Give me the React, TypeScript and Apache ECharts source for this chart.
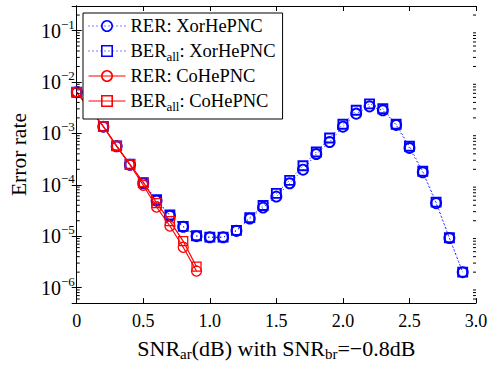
import React, { useEffect, useRef } from 'react';
import * as echarts from 'echarts';

// ---- data ----
const xorSnr = [0, 0.2, 0.3, 0.4, 0.5, 0.6, 0.7, 0.8, 0.9, 1.0, 1.1, 1.2, 1.3, 1.4, 1.5, 1.6, 1.7, 1.8, 1.9, 2.0, 2.1, 2.2, 2.3, 2.4, 2.5, 2.6, 2.7, 2.8, 2.9];
const rerXor = [6.3e-3, 1.35e-3, 5.6e-4, 2.45e-4, 1.07e-4, 4.9e-5, 2.5e-5, 1.52e-5, 1.0e-5, 9.5e-6, 9.5e-6, 1.27e-5, 2.2e-5, 3.6e-5, 5.9e-5, 1.07e-4, 1.97e-4, 3.97e-4, 6.8e-4, 1.35e-3, 2.42e-3, 3.35e-3, 2.81e-3, 1.46e-3, 5.2e-4, 1.75e-4, 4.4e-5, 9.2e-6, 2.0e-6];
const berXor = [6.3e-3, 1.37e-3, 5.7e-4, 2.5e-4, 1.1e-4, 5.1e-5, 2.6e-5, 1.55e-5, 1.02e-5, 9.6e-6, 9.6e-6, 1.3e-5, 2.3e-5, 3.95e-5, 6.8e-5, 1.22e-4, 2.35e-4, 4.33e-4, 8.1e-4, 1.5e-3, 2.81e-3, 3.75e-3, 3.01e-3, 1.5e-3, 5.63e-4, 1.83e-4, 4.6e-5, 9.3e-6, 2.0e-6];
const coSnr = [0, 0.2, 0.3, 0.4, 0.5, 0.6, 0.7, 0.8, 0.9];
const rerCo = [6.26e-3, 1.35e-3, 5.6e-4, 2.45e-4, 9.8e-5, 3.7e-5, 1.58e-5, 6.1e-6, 2.1e-6];
const berCo = [6.3e-3, 1.37e-3, 5.7e-4, 2.5e-4, 1.13e-4, 4.4e-5, 1.96e-5, 8.0e-6, 2.55e-6];

const seriesNames = ['RER: XorHePNC', 'BER_all: XorHePNC', 'RER: CoHePNC', 'BER_all: CoHePNC'];
const xTickValues = [0, 0.5, 1.0, 1.5, 2.0, 2.5, 3.0];
const yDecades = [-7, -6, -5, -4, -3, -2, -1];
const minorMultipliers = [2, 3, 4, 5, 6, 7, 8, 9];

const X_MIN = 0;
const X_MAX = 3;
const Y_MIN = 5e-7;
const Y_MAX = 0.3;

const FONT = 'Liberation Serif';

const minorTickValues: number[] = [];
yDecades.forEach((d) => {
  minorMultipliers.forEach((m) => {
    const v = m * Math.pow(10, d);
    if (v > Y_MIN && v < Y_MAX) minorTickValues.push(v);
  });
});

function richName(name: string): string {
  const m = name.match(/^(\w+)_(\w+)(.*)$/);
  if (m) return `{a|${m[1]}}{s|${m[2]}}{a|${m[3]}}`;
  return `{a|${name}}`;
}

export default function App() {
  const ref = useRef<HTMLDivElement>(null);

  useEffect(() => {
    document.body.style.margin = '0';
    if (!ref.current) return;
    const chart = echarts.init(ref.current, undefined, { renderer: 'svg' });

    const BLUE = '#0000ff';
    const RED = '#ff0000';

    const axisLineStyle = { color: '#000', width: 1 };

    const option: any = {
      animation: false,
      backgroundColor: '#fff',
      textStyle: { fontFamily: FONT, color: '#000' },
      grid: { left: 76, right: 15, top: 6, bottom: 56, containLabel: false },
      legend: {
        data: seriesNames,
        orient: 'vertical',
        left: 83,
        top: 13,
        itemWidth: 37,
        itemHeight: 13,
        itemGap: 1,
        padding: [1, 7, 6, 5],
        borderColor: '#000',
        borderWidth: 1,
        backgroundColor: '#fff',
        selectedMode: false,
        lineStyle: { width: 1 },
        itemStyle: { borderWidth: 1.6 },
        formatter: (name: string) => richName(name),
        textStyle: {
          fontFamily: FONT,
          fontSize: 18.5,
          lineHeight: 24,
          color: '#000',
          rich: {
            a: { fontFamily: FONT, fontSize: 18.5, lineHeight: 24, color: '#000' },
            s: { fontFamily: FONT, fontSize: 13, lineHeight: 8, verticalAlign: 'bottom', color: '#000' },
          },
        },
      },
      xAxis: [
        {
          type: 'value',
          min: X_MIN,
          max: X_MAX,
          interval: 0.5,
          position: 'bottom',
          axisLine: { show: true, lineStyle: axisLineStyle },
          axisTick: { show: true, inside: true, length: 5, lineStyle: axisLineStyle },
          splitLine: { show: false },
          axisLabel: {
            fontFamily: FONT,
            fontSize: 18,
            color: '#000',
            margin: 9,
            formatter: (v: number) => {
              const t = xTickValues.find((x) => Math.abs(x - v) < 1e-9);
              if (t === undefined) return '';
              return t === 0 ? '0' : t.toFixed(1);
            },
          },
          name: '{a|SNR}{s|ar}{a|(dB) with SNR}{s|br}{a|=\u22120.8dB}',
          nameLocation: 'middle',
          nameGap: 29,
          nameTextStyle: {
            fontFamily: FONT,
            fontSize: 22,
            lineHeight: 26,
            color: '#000',
            rich: {
              a: { fontFamily: FONT, fontSize: 22, lineHeight: 26, color: '#000' },
              s: { fontFamily: FONT, fontSize: 15, lineHeight: 8, verticalAlign: 'bottom', color: '#000' },
            },
          },
        },
        {
          type: 'value',
          min: X_MIN,
          max: X_MAX,
          interval: 0.5,
          position: 'top',
          axisLine: { show: true, lineStyle: axisLineStyle },
          axisTick: { show: true, inside: true, length: 5, lineStyle: axisLineStyle },
          splitLine: { show: false },
          axisLabel: { show: false },
        },
      ],
      yAxis: [
        {
          type: 'log',
          logBase: 10,
          min: Y_MIN,
          max: Y_MAX,
          position: 'left',
          axisLine: { show: true, lineStyle: axisLineStyle },
          axisTick: { show: true, inside: true, length: 5, lineStyle: axisLineStyle },
          splitLine: { show: false },
          axisLabel: {
            showMinLabel: false,
            showMaxLabel: false,
            margin: 2,
            fontFamily: FONT,
            color: '#000',
            formatter: (v: number) => {
              const n = Math.round(Math.log10(v));
              if (Math.abs(Math.log10(v) - n) > 1e-6) return '';
              return `{b|10}{p|\u2212${-n}}`;
            },
            rich: {
              b: { fontFamily: FONT, fontSize: 20, lineHeight: 26, color: '#000' },
              p: { fontFamily: FONT, fontSize: 13, lineHeight: 12, verticalAlign: 'top', color: '#000' },
            },
          },
          name: 'Error rate',
          nameLocation: 'middle',
          nameGap: 43,
          nameTextStyle: { fontFamily: FONT, fontSize: 21.5, color: '#000' },
        },
        {
          type: 'log',
          logBase: 10,
          min: Y_MIN,
          max: Y_MAX,
          position: 'right',
          axisLine: { show: true, lineStyle: axisLineStyle },
          axisTick: { show: true, inside: true, length: 5, lineStyle: axisLineStyle },
          splitLine: { show: false },
          axisLabel: { show: false },
        },
      ],
      series: [
        {
          name: seriesNames[0],
          type: 'line',
          data: xorSnr.map((x, i) => [x, rerXor[i]]),
          symbol: 'circle',
          symbolSize: 10,
          itemStyle: { color: 'rgba(0,0,0,0)', borderColor: BLUE, borderWidth: 1.9 },
          lineStyle: { color: BLUE, width: 1, type: [1, 3] },
          z: 2,
        },
        {
          name: seriesNames[1],
          type: 'line',
          data: xorSnr.map((x, i) => [x, berXor[i]]),
          symbol: 'rect',
          symbolSize: 9,
          itemStyle: { color: 'rgba(0,0,0,0)', borderColor: BLUE, borderWidth: 1.9 },
          lineStyle: { color: BLUE, width: 1, type: [1, 3] },
          z: 2,
        },
        {
          name: seriesNames[2],
          type: 'line',
          data: coSnr.map((x, i) => [x, rerCo[i]]),
          symbol: 'circle',
          symbolSize: 10,
          itemStyle: { color: 'rgba(0,0,0,0)', borderColor: RED, borderWidth: 1.3 },
          lineStyle: { color: RED, width: 1.2 },
          z: 3,
        },
        {
          name: seriesNames[3],
          type: 'line',
          data: coSnr.map((x, i) => [x, berCo[i]]),
          symbol: 'rect',
          symbolSize: 9,
          itemStyle: { color: 'rgba(0,0,0,0)', borderColor: RED, borderWidth: 1.3 },
          lineStyle: { color: RED, width: 1.2 },
          z: 3,
        },
        {
          name: 'minorTicks',
          type: 'custom',
          silent: true,
          clip: false,
          z: 10,
          data: minorTickValues.map((v) => [X_MIN, v]),
          encode: { x: 0, y: 1 },
          renderItem: (_params: any, api: any) => {
            const v = api.value(1);
            const pl = api.coord([X_MIN, v]);
            const pr = api.coord([X_MAX, v]);
            return {
              type: 'group',
              children: [
                { type: 'line', shape: { x1: pl[0], y1: pl[1], x2: pl[0] + 3, y2: pl[1] }, style: { stroke: '#000', lineWidth: 1 } },
                { type: 'line', shape: { x1: pr[0] - 3, y1: pr[1], x2: pr[0], y2: pr[1] }, style: { stroke: '#000', lineWidth: 1 } },
              ],
            };
          },
        },
      ],
    };

    chart.setOption(option);
    return () => chart.dispose();
  }, []);

  return <div ref={ref} style={{ width: 491, height: 366 }} />;
}
